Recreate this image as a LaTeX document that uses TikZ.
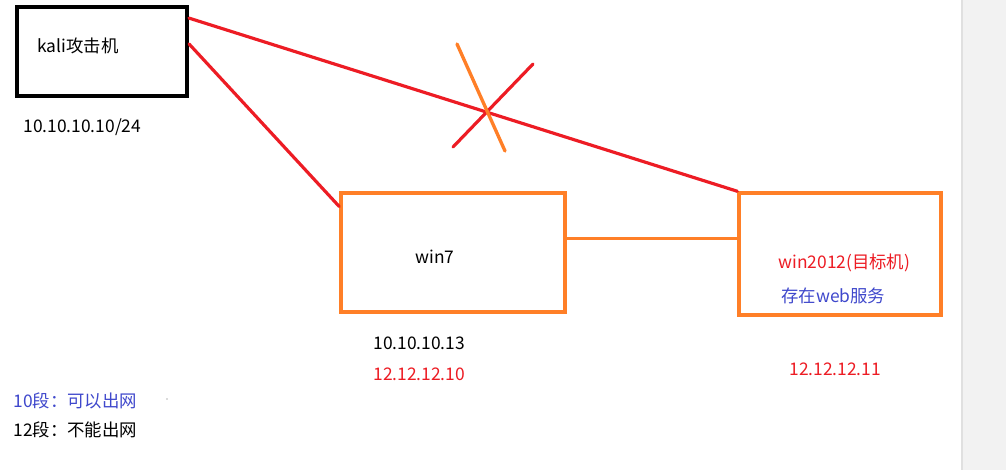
\documentclass[tikz,border=0pt]{standalone}
\usepackage{fontspec}
\setmainfont{Noto Sans CJK SC}
\usepackage{tikz}
\usetikzlibrary{positioning}

\definecolor{linered}{HTML}{ED1C24}
\definecolor{lineorange}{HTML}{FF7F27}
\definecolor{textblue}{HTML}{3F48CC}

\tikzset{
  hostbox/.style={draw, minimum width=#1, inner sep=0pt},
  lbl/.style={anchor=west, inner sep=0pt, font=\fontsize{9.9pt}{12pt}\selectfont},
  redline/.style={linered, line width=1.8pt, line cap=round},
  orangeline/.style={lineorange, line width=1.9pt, line cap=round}
}

\begin{document}
\begin{tikzpicture}[x=0.02cm,y=-0.02cm]
    \useasboundingbox (0,0) rectangle (1006,470);
    \fill[white] (0,0) rectangle (962,470);
    \fill[black!5] (962,0) rectangle (1006,470);
    \draw[black!12, line width=1pt] (962,0) -- (962,470);

    % hosts
    \node[hostbox=3.4cm, minimum height=1.78cm, line width=2.3pt] (kali) at (102,51.5) {};
    \node[hostbox=4.48cm, minimum height=2.38cm, lineorange, line width=2pt] (win7) at (453,252.5) {};
    \node[hostbox=4.04cm, minimum height=2.44cm, lineorange, line width=2pt] (target) at (840,254) {};

    % links
    \draw[redline] (kali.21.5) -- (target.north west);
    \draw[redline] (kali.5) -- (win7.158);
    \draw[orangeline] (win7.7) -- (win7.7 -| target.west);

    % blocked mark
    \draw[redline] (453,147) -- (533,64);
    \draw[orangeline] (457,44) -- (505,151);

    % labels
    \node[lbl] (kalitxt) at (37,46) {kali攻击机};
    \node[lbl] (kaliip) at (23,127) {10.10.10.10/24};
    \node[lbl] (win7txt) at (415,257) {win7};
    \node[lbl, text=linered] (targettxt) at (778,263) {win2012(目标机)};
    \node[lbl, text=textblue] (webtxt) at (781,296) {存在web服务};
    \node[lbl] (win7ipa) at (373,343) {10.10.10.13};
    \node[lbl, text=linered] (win7ipb) at (373,374) {12.12.12.10};
    \node[lbl, text=linered] (targetip) at (789,369) {12.12.12.11};
    \node[lbl, text=textblue] (noteten) at (13,401) {10段：可以出网};
    \node[lbl] (notetwelve) at (13,430) {12段：不能出网};
    \fill[black!60] (167,399) circle (0.7);
\end{tikzpicture}
\end{document}
